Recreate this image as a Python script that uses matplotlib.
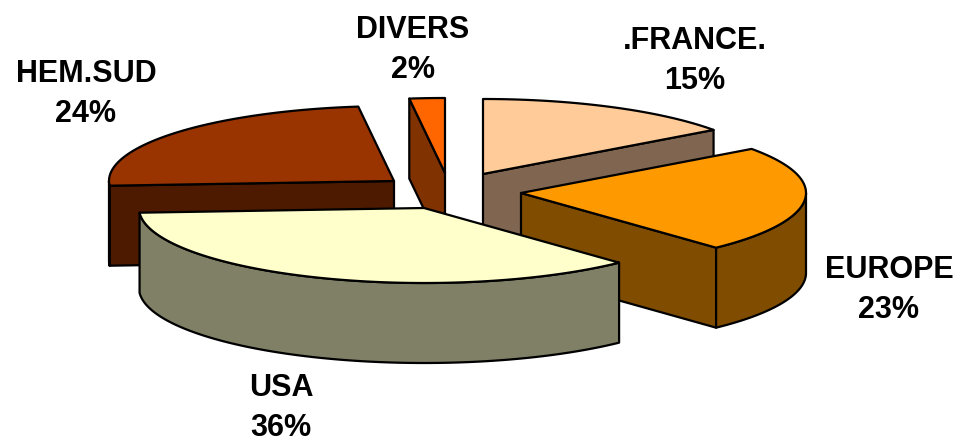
import numpy as np
import matplotlib
matplotlib.use('Agg')
import matplotlib.pyplot as plt
from matplotlib.patches import Polygon

plt.rcParams['font.family'] = ['Liberation Sans', 'DejaVu Sans']

# pie data, clockwise from 12 o'clock
labels = ['.FRANCE.', 'EUROPE', 'USA', 'HEM.SUD', 'DIVERS']
values = [15, 23, 36, 24, 2]
top_colors = ['#FFCC99', '#FF9900', '#FFFFCC', '#993300', '#FF6600']
side_colors = ['#806650', '#804D00', '#808066', '#4D1A00', '#803300']

# where each exploded slice has its apex, in pixels
apex_x = [483, 521, 424, 394, 445]
apex_y = [174, 193, 208, 181, 173]
label_x = [695, 889, 281, 86, 413]
label_y = [61, 290, 408, 94, 50]
draw_order = [3, 0, 4, 1, 2]

RX, RY, DEPTH = 285, 75, 80


def rim(cx, cy, t0, t1):
    t = np.radians(np.linspace(t0, t1, max(int(t1 - t0), 2) * 2))
    return np.column_stack([cx + RX * np.sin(t), cy - RY * np.cos(t)])


def add_face(ax, pts, color):
    ax.add_patch(Polygon(pts, closed=True, facecolor=color, edgecolor='black',
                         linewidth=1.6, joinstyle='round'))


fig = plt.figure(figsize=(9.58, 4.41), dpi=100)
ax = fig.add_axes([0, 0, 1, 1])
ax.set_xlim(0, 958)
ax.set_ylim(441, 0)
ax.axis('off')

edges = np.cumsum([0] + values) / sum(values) * 360
for i in draw_order:
    cx, cy = apex_x[i], apex_y[i]
    t0, t1 = edges[i], edges[i + 1]
    arc = rim(cx, cy, t0, t1)
    drop = np.array([0, DEPTH])

    # radial walls, only those turned towards the viewer
    if np.sin(np.radians(t0)) < 0:
        add_face(ax, [(cx, cy), arc[0], arc[0] + drop, (cx, cy + DEPTH)], side_colors[i])
    if np.sin(np.radians(t1)) > 0:
        add_face(ax, [(cx, cy), arc[-1], arc[-1] + drop, (cx, cy + DEPTH)], side_colors[i])

    # outer wall, only the part facing the viewer
    lo, hi = max(t0, 90), min(t1, 270)
    if hi > lo:
        wall = rim(cx, cy, lo, hi)
        add_face(ax, np.vstack([wall, (wall + drop)[::-1]]), side_colors[i])

    add_face(ax, np.vstack([[(cx, cy)], arc]), top_colors[i])

for name, val, x, y in zip(labels, values, label_x, label_y):
    ax.text(x, y, f'{name}\n{val}%', ha='center', va='center', fontsize=22,
            fontweight='bold', color='black', linespacing=1.42)

fig.savefig('out.png', dpi=100)
